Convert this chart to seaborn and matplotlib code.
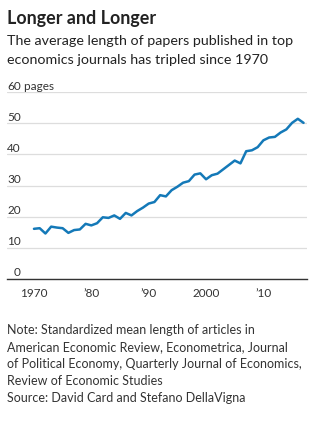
import matplotlib
matplotlib.use("Agg")
import matplotlib.pyplot as plt
import matplotlib.transforms as mtransforms
import seaborn as sns
import pandas as pd

years = list(range(1970, 2018))
pages = [16.1, 16.3, 14.6, 16.8, 16.5, 16.3, 14.8, 15.7, 15.9, 17.7,
         17.2, 17.9, 19.8, 19.6, 20.4, 19.3, 21.2, 20.4, 21.8, 22.9,
         24.2, 24.7, 26.9, 26.5, 28.5, 29.6, 30.9, 31.4, 33.5, 33.9,
         32.0, 33.3, 33.8, 35.2, 36.6, 38.0, 37.1, 41.0, 41.3, 42.3,
         44.5, 45.4, 45.6, 47.0, 48.0, 50.1, 51.4, 50.1]
y_ticks = [0, 10, 20, 30, 40, 50, 60]
x_ticks = [1970, 1980, 1990, 2000, 2010]
x_labels = ["1970", "\u201980", "\u201990", "2000", "\u201910"]

title = "Longer and Longer"
subtitle = ["The average length of papers published in top",
            "economics journals has tripled since 1970"]
notes = ["Note: Standardized mean length of articles in",
         "American Economic Review, Econometrica, Journal",
         "of Political Economy, Quarterly Journal of Economics,",
         "Review of Economic Studies",
         "Source: David Card and Stefano DellaVigna"]

df = pd.DataFrame({"year": years, "pages": pages})

sns.set_theme(style="white")
plt.rcParams["font.family"] = ["Lato", "DejaVu Sans"]

W, H = 321, 421
fig = plt.figure(figsize=(W / 100, H / 100), dpi=100)
fig.patch.set_facecolor("white")

def fx(x):
    return x / W

def fy(y):
    return 1 - y / H

ax = fig.add_axes([fx(7), fy(279), (307 - 7) / W, (279 - 92) / H])
sns.lineplot(data=df, x="year", y="pages", ax=ax, color="#1479b8", linewidth=1.8)

ax.set_xlim(1965.3, 2017.6)
ax.set_ylim(0, 60)
ax.set_xlabel("")
ax.set_ylabel("")
for s in ["top", "right", "left"]:
    ax.spines[s].set_visible(False)
ax.spines["bottom"].set_color("#333333")
ax.spines["bottom"].set_linewidth(1.0)

ax.set_yticks(y_ticks)
ax.set_yticklabels([])
ax.tick_params(axis="y", length=0)
ax.yaxis.grid(True, color="#dddddd", linewidth=0.9)
ax.set_axisbelow(True)

ax.set_xticks(x_ticks)
ax.set_xticklabels(x_labels, fontsize=8.5, color="#333333")
ax.set_xticks(years, minor=True)
ax.tick_params(axis="x", which="major", length=4, width=0.8, color="#333333", pad=2.5, direction="out")
ax.tick_params(axis="x", which="minor", length=2.5, width=0.8, color="#333333", direction="out")

trans = mtransforms.blended_transform_factory(fig.transFigure, ax.transData)
trans = mtransforms.offset_copy(trans, fig=fig, y=2.5, units="dots")
for v in y_ticks:
    ax.text(fx(21), v, str(v), transform=trans, ha="right", va="baseline",
            fontsize=8.5, color="#333333")
ax.text(fx(21), y_ticks[-1], " pages", transform=trans, ha="left", va="baseline",
        fontsize=8.5, color="#333333")

fig.text(fx(7), fy(24), title, fontsize=12.9, fontweight="bold", color="#222222", va="baseline")
for i, line in enumerate(subtitle):
    fig.text(fx(7), fy(45 + 19 * i), line, fontsize=10.3, color="#222222", va="baseline")
for i, line in enumerate(notes):
    fig.text(fx(7), fy(334 + 17 * i), line, fontsize=9.0, color="#333333", va="baseline")

fig.savefig("out.png", dpi=100, facecolor="white")
